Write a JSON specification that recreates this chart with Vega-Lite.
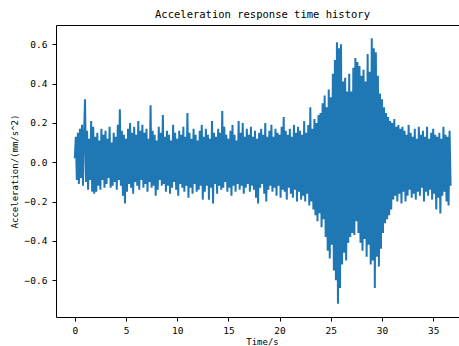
{
  "$schema": "https://vega.github.io/schema/vega-lite/v6.json",
  "autosize": "none",
  "width": 403,
  "height": 292,
  "padding": {"left": 56, "top": 25, "right": 0, "bottom": 29},
  "background": "white",
  "config": {
    "view": {"stroke": null},
    "font": "DejaVu Sans Mono",
    "axis": {
      "grid": false,
      "domainColor": "black",
      "domainWidth": 1,
      "tickColor": "black",
      "tickSize": 4,
      "labelColor": "black",
      "titleColor": "black",
      "labelFont": "DejaVu Sans Mono",
      "titleFont": "DejaVu Sans Mono",
      "labelFontSize": 9.5,
      "titleFontSize": 9,
      "titleFontWeight": "normal"
    }
  },
  "title": {
    "text": "Acceleration response time history",
    "font": "DejaVu Sans Mono",
    "fontSize": 10.5,
    "fontWeight": "normal",
    "color": "black",
    "anchor": "middle",
    "dx": 5,
    "offset": 5
  },
  "data": {
    "values": [
      {"t":0.0,"a":0.02},{"t":0.1,"a":0.13},{"t":0.2,"a":-0.09},{"t":0.3,"a":0.15},{"t":0.4,"a":-0.11},{"t":0.5,"a":0.17},{"t":0.6,"a":-0.08},{"t":0.7,"a":0.19},{"t":0.8,"a":-0.12},{"t":0.9,"a":0.14},
      {"t":1.0,"a":0.32},{"t":1.1,"a":-0.10},{"t":1.2,"a":0.16},{"t":1.3,"a":-0.14},{"t":1.4,"a":0.12},{"t":1.5,"a":-0.09},{"t":1.6,"a":0.21},{"t":1.7,"a":-0.15},{"t":1.8,"a":0.18},{"t":1.9,"a":-0.16},
      {"t":2.0,"a":0.13},{"t":2.1,"a":-0.15},{"t":2.2,"a":0.15},{"t":2.3,"a":-0.12},{"t":2.4,"a":0.11},{"t":2.5,"a":-0.14},{"t":2.6,"a":0.17},{"t":2.7,"a":-0.09},{"t":2.8,"a":0.14},{"t":2.9,"a":-0.13},
      {"t":3.0,"a":0.16},{"t":3.1,"a":-0.11},{"t":3.2,"a":0.12},{"t":3.3,"a":-0.08},{"t":3.4,"a":0.18},{"t":3.5,"a":-0.13},{"t":3.6,"a":0.10},{"t":3.7,"a":-0.12},{"t":3.8,"a":0.15},{"t":3.9,"a":-0.10},
      {"t":4.0,"a":0.13},{"t":4.1,"a":-0.14},{"t":4.2,"a":0.19},{"t":4.3,"a":-0.09},{"t":4.4,"a":0.27},{"t":4.5,"a":-0.12},{"t":4.6,"a":0.16},{"t":4.7,"a":-0.17},{"t":4.8,"a":0.14},{"t":4.9,"a":-0.21},
      {"t":5.0,"a":0.12},{"t":5.1,"a":-0.15},{"t":5.2,"a":0.17},{"t":5.3,"a":-0.11},{"t":5.4,"a":0.20},{"t":5.5,"a":-0.13},{"t":5.6,"a":0.15},{"t":5.7,"a":-0.16},{"t":5.8,"a":0.18},{"t":5.9,"a":-0.10},
      {"t":6.0,"a":0.14},{"t":6.1,"a":-0.12},{"t":6.2,"a":0.21},{"t":6.3,"a":-0.14},{"t":6.4,"a":0.16},{"t":6.5,"a":-0.09},{"t":6.6,"a":0.19},{"t":6.7,"a":-0.13},{"t":6.8,"a":0.15},{"t":6.9,"a":-0.11},
      {"t":7.0,"a":0.17},{"t":7.1,"a":-0.15},{"t":7.2,"a":0.12},{"t":7.3,"a":-0.10},{"t":7.4,"a":0.29},{"t":7.5,"a":-0.13},{"t":7.6,"a":0.16},{"t":7.7,"a":-0.12},{"t":7.8,"a":0.14},{"t":7.9,"a":-0.17},
      {"t":8.0,"a":0.11},{"t":8.1,"a":-0.14},{"t":8.2,"a":0.18},{"t":8.3,"a":-0.09},{"t":8.4,"a":0.15},{"t":8.5,"a":-0.12},{"t":8.6,"a":0.24},{"t":8.7,"a":-0.11},{"t":8.8,"a":0.13},{"t":8.9,"a":-0.15},
      {"t":9.0,"a":0.16},{"t":9.1,"a":-0.12},{"t":9.2,"a":0.14},{"t":9.3,"a":-0.16},{"t":9.4,"a":0.11},{"t":9.5,"a":-0.13},{"t":9.6,"a":0.19},{"t":9.7,"a":-0.10},{"t":9.8,"a":0.15},{"t":9.9,"a":-0.14},
      {"t":10.0,"a":0.12},{"t":10.1,"a":-0.17},{"t":10.2,"a":0.16},{"t":10.3,"a":-0.11},{"t":10.4,"a":0.14},{"t":10.5,"a":-0.13},{"t":10.6,"a":0.18},{"t":10.7,"a":-0.15},{"t":10.8,"a":0.13},{"t":10.9,"a":-0.12},
      {"t":11.0,"a":0.25},{"t":11.1,"a":-0.18},{"t":11.2,"a":0.15},{"t":11.3,"a":-0.13},{"t":11.4,"a":0.12},{"t":11.5,"a":-0.16},{"t":11.6,"a":0.17},{"t":11.7,"a":-0.11},{"t":11.8,"a":0.14},{"t":11.9,"a":-0.15},
      {"t":12.0,"a":0.11},{"t":12.1,"a":-0.14},{"t":12.2,"a":0.16},{"t":12.3,"a":-0.12},{"t":12.4,"a":0.19},{"t":12.5,"a":-0.19},{"t":12.6,"a":0.13},{"t":12.7,"a":-0.15},{"t":12.8,"a":0.17},{"t":12.9,"a":-0.12},
      {"t":13.0,"a":0.14},{"t":13.1,"a":-0.19},{"t":13.2,"a":0.12},{"t":13.3,"a":-0.13},{"t":13.4,"a":0.21},{"t":13.5,"a":-0.21},{"t":13.6,"a":0.15},{"t":13.7,"a":-0.11},{"t":13.8,"a":0.13},{"t":13.9,"a":-0.16},
      {"t":14.0,"a":0.17},{"t":14.1,"a":-0.12},{"t":14.2,"a":0.15},{"t":14.3,"a":-0.14},{"t":14.4,"a":0.26},{"t":14.5,"a":-0.13},{"t":14.6,"a":0.18},{"t":14.7,"a":-0.10},{"t":14.8,"a":0.14},{"t":14.9,"a":-0.15},
      {"t":15.0,"a":0.12},{"t":15.1,"a":-0.13},{"t":15.2,"a":0.16},{"t":15.3,"a":-0.17},{"t":15.4,"a":0.19},{"t":15.5,"a":-0.12},{"t":15.6,"a":0.14},{"t":15.7,"a":-0.15},{"t":15.8,"a":0.11},{"t":15.9,"a":-0.11},
      {"t":16.0,"a":0.21},{"t":16.1,"a":-0.14},{"t":16.2,"a":0.15},{"t":16.3,"a":-0.12},{"t":16.4,"a":0.20},{"t":16.5,"a":-0.16},{"t":16.6,"a":0.13},{"t":16.7,"a":-0.13},{"t":16.8,"a":0.17},{"t":16.9,"a":-0.11},
      {"t":17.0,"a":0.14},{"t":17.1,"a":-0.15},{"t":17.2,"a":0.18},{"t":17.3,"a":-0.12},{"t":17.4,"a":0.13},{"t":17.5,"a":-0.14},{"t":17.6,"a":0.16},{"t":17.7,"a":-0.18},{"t":17.8,"a":0.12},{"t":17.9,"a":-0.21},
      {"t":18.0,"a":0.15},{"t":18.1,"a":-0.13},{"t":18.2,"a":0.17},{"t":18.3,"a":-0.11},{"t":18.4,"a":0.14},{"t":18.5,"a":-0.16},{"t":18.6,"a":0.20},{"t":18.7,"a":-0.20},{"t":18.8,"a":0.13},{"t":18.9,"a":-0.14},
      {"t":19.0,"a":0.16},{"t":19.1,"a":-0.12},{"t":19.2,"a":0.19},{"t":19.3,"a":-0.15},{"t":19.4,"a":0.13},{"t":19.5,"a":-0.13},{"t":19.6,"a":0.17},{"t":19.7,"a":-0.17},{"t":19.8,"a":0.15},{"t":19.9,"a":-0.12},
      {"t":20.0,"a":0.14},{"t":20.1,"a":-0.18},{"t":20.2,"a":0.18},{"t":20.3,"a":-0.14},{"t":20.4,"a":0.23},{"t":20.5,"a":-0.15},{"t":20.6,"a":0.16},{"t":20.7,"a":-0.19},{"t":20.8,"a":0.14},{"t":20.9,"a":-0.13},
      {"t":21.0,"a":0.17},{"t":21.1,"a":-0.16},{"t":21.2,"a":0.13},{"t":21.3,"a":-0.18},{"t":21.4,"a":0.19},{"t":21.5,"a":-0.14},{"t":21.6,"a":0.15},{"t":21.7,"a":-0.20},{"t":21.8,"a":0.18},{"t":21.9,"a":-0.15},
      {"t":22.0,"a":0.16},{"t":22.1,"a":-0.19},{"t":22.2,"a":0.14},{"t":22.3,"a":-0.17},{"t":22.4,"a":0.21},{"t":22.5,"a":-0.20},{"t":22.6,"a":0.15},{"t":22.7,"a":-0.16},{"t":22.8,"a":0.19},{"t":22.9,"a":-0.22},
      {"t":23.0,"a":0.28},{"t":23.1,"a":-0.20},{"t":23.2,"a":0.17},{"t":23.3,"a":-0.24},{"t":23.4,"a":0.22},{"t":23.5,"a":-0.27},{"t":23.6,"a":0.20},{"t":23.7,"a":-0.30},{"t":23.8,"a":0.24},{"t":23.9,"a":-0.26},
      {"t":24.0,"a":0.25},{"t":24.1,"a":-0.33},{"t":24.2,"a":0.30},{"t":24.3,"a":-0.29},{"t":24.4,"a":0.34},{"t":24.5,"a":-0.38},{"t":24.6,"a":0.28},{"t":24.7,"a":-0.45},{"t":24.8,"a":0.37},{"t":24.9,"a":-0.49},
      {"t":25.0,"a":0.33},{"t":25.1,"a":-0.42},{"t":25.2,"a":0.45},{"t":25.3,"a":-0.55},{"t":25.4,"a":0.52},{"t":25.5,"a":-0.60},{"t":25.6,"a":0.61},{"t":25.7,"a":-0.72},{"t":25.8,"a":0.58},{"t":25.9,"a":-0.64},
      {"t":26.0,"a":0.60},{"t":26.1,"a":-0.52},{"t":26.2,"a":0.41},{"t":26.3,"a":-0.46},{"t":26.4,"a":0.43},{"t":26.5,"a":-0.50},{"t":26.6,"a":0.36},{"t":26.7,"a":-0.41},{"t":26.8,"a":0.45},{"t":26.9,"a":-0.38},
      {"t":27.0,"a":0.36},{"t":27.1,"a":-0.36},{"t":27.2,"a":0.48},{"t":27.3,"a":-0.37},{"t":27.4,"a":0.53},{"t":27.5,"a":-0.30},{"t":27.6,"a":0.51},{"t":27.7,"a":-0.36},{"t":27.8,"a":0.49},{"t":27.9,"a":-0.41},
      {"t":28.0,"a":0.44},{"t":28.1,"a":-0.45},{"t":28.2,"a":0.47},{"t":28.3,"a":-0.39},{"t":28.4,"a":0.41},{"t":28.5,"a":-0.48},{"t":28.6,"a":0.55},{"t":28.7,"a":-0.42},{"t":28.8,"a":0.46},{"t":28.9,"a":-0.52},
      {"t":29.0,"a":0.63},{"t":29.1,"a":-0.50},{"t":29.2,"a":0.58},{"t":29.3,"a":-0.64},{"t":29.4,"a":0.56},{"t":29.5,"a":-0.48},{"t":29.6,"a":0.44},{"t":29.7,"a":-0.53},{"t":29.8,"a":0.35},{"t":29.9,"a":-0.44},
      {"t":30.0,"a":0.32},{"t":30.1,"a":-0.36},{"t":30.2,"a":0.28},{"t":30.3,"a":-0.31},{"t":30.4,"a":0.25},{"t":30.5,"a":-0.29},{"t":30.6,"a":0.23},{"t":30.7,"a":-0.27},{"t":30.8,"a":0.21},{"t":30.9,"a":-0.24},
      {"t":31.0,"a":0.20},{"t":31.1,"a":-0.19},{"t":31.2,"a":0.22},{"t":31.3,"a":-0.17},{"t":31.4,"a":0.18},{"t":31.5,"a":-0.20},{"t":31.6,"a":0.19},{"t":31.7,"a":-0.16},{"t":31.8,"a":0.17},{"t":31.9,"a":-0.21},
      {"t":32.0,"a":0.18},{"t":32.1,"a":-0.15},{"t":32.2,"a":0.16},{"t":32.3,"a":-0.20},{"t":32.4,"a":0.14},{"t":32.5,"a":-0.17},{"t":32.6,"a":0.19},{"t":32.7,"a":-0.14},{"t":32.8,"a":0.15},{"t":32.9,"a":-0.18},
      {"t":33.0,"a":0.13},{"t":33.1,"a":-0.16},{"t":33.2,"a":0.17},{"t":33.3,"a":-0.19},{"t":33.4,"a":0.12},{"t":33.5,"a":-0.15},{"t":33.6,"a":0.18},{"t":33.7,"a":-0.17},{"t":33.8,"a":0.14},{"t":33.9,"a":-0.13},
      {"t":34.0,"a":0.16},{"t":34.1,"a":-0.20},{"t":34.2,"a":0.13},{"t":34.3,"a":-0.15},{"t":34.4,"a":0.18},{"t":34.5,"a":-0.17},{"t":34.6,"a":0.12},{"t":34.7,"a":-0.14},{"t":34.8,"a":0.15},{"t":34.9,"a":-0.19},
      {"t":35.0,"a":0.17},{"t":35.1,"a":-0.16},{"t":35.2,"a":0.14},{"t":35.3,"a":-0.24},{"t":35.4,"a":0.13},{"t":35.5,"a":-0.18},{"t":35.6,"a":0.15},{"t":35.7,"a":-0.26},{"t":35.8,"a":0.12},{"t":35.9,"a":-0.17},
      {"t":36.0,"a":0.18},{"t":36.1,"a":-0.15},{"t":36.2,"a":0.14},{"t":36.3,"a":-0.20},{"t":36.4,"a":0.13},{"t":36.5,"a":-0.22},{"t":36.6,"a":0.16},{"t":36.7,"a":-0.12}
    ]
  },
  "layer": [
    {
      "mark": {"type": "line", "color": "#1f77b4", "strokeWidth": 2, "clip": true},
      "encoding": {
        "x": {
          "field": "t", "type": "quantitative",
          "scale": {"domain": [-1.835, 37.52], "nice": false, "zero": false},
          "axis": {"values": [0, 5, 10, 15, 20, 25, 30, 35], "format": "d", "title": "Time/s", "titleX": 206, "labelPadding": 4, "titlePadding": 3, "labelFlush": false}
        },
        "y": {
          "field": "a", "type": "quantitative",
          "scale": {"domain": [-0.787, 0.698], "nice": false, "zero": false},
          "axis": {"values": [-0.6, -0.4, -0.2, 0, 0.2, 0.4, 0.6], "format": ".1f", "title": "Acceleration/(mm/s^2)", "labelPadding": 5, "titlePadding": 5, "labelFlush": false}
        }
      }
    },
    {
      "mark": {"type": "rule", "opacity": 0},
      "encoding": {
        "x": {
          "datum": 0, "type": "quantitative",
          "axis": {"orient": "top", "labels": false, "ticks": false, "title": null, "domain": true}
        }
      }
    }
  ],
  "resolve": {"axis": {"x": "independent"}}
}
